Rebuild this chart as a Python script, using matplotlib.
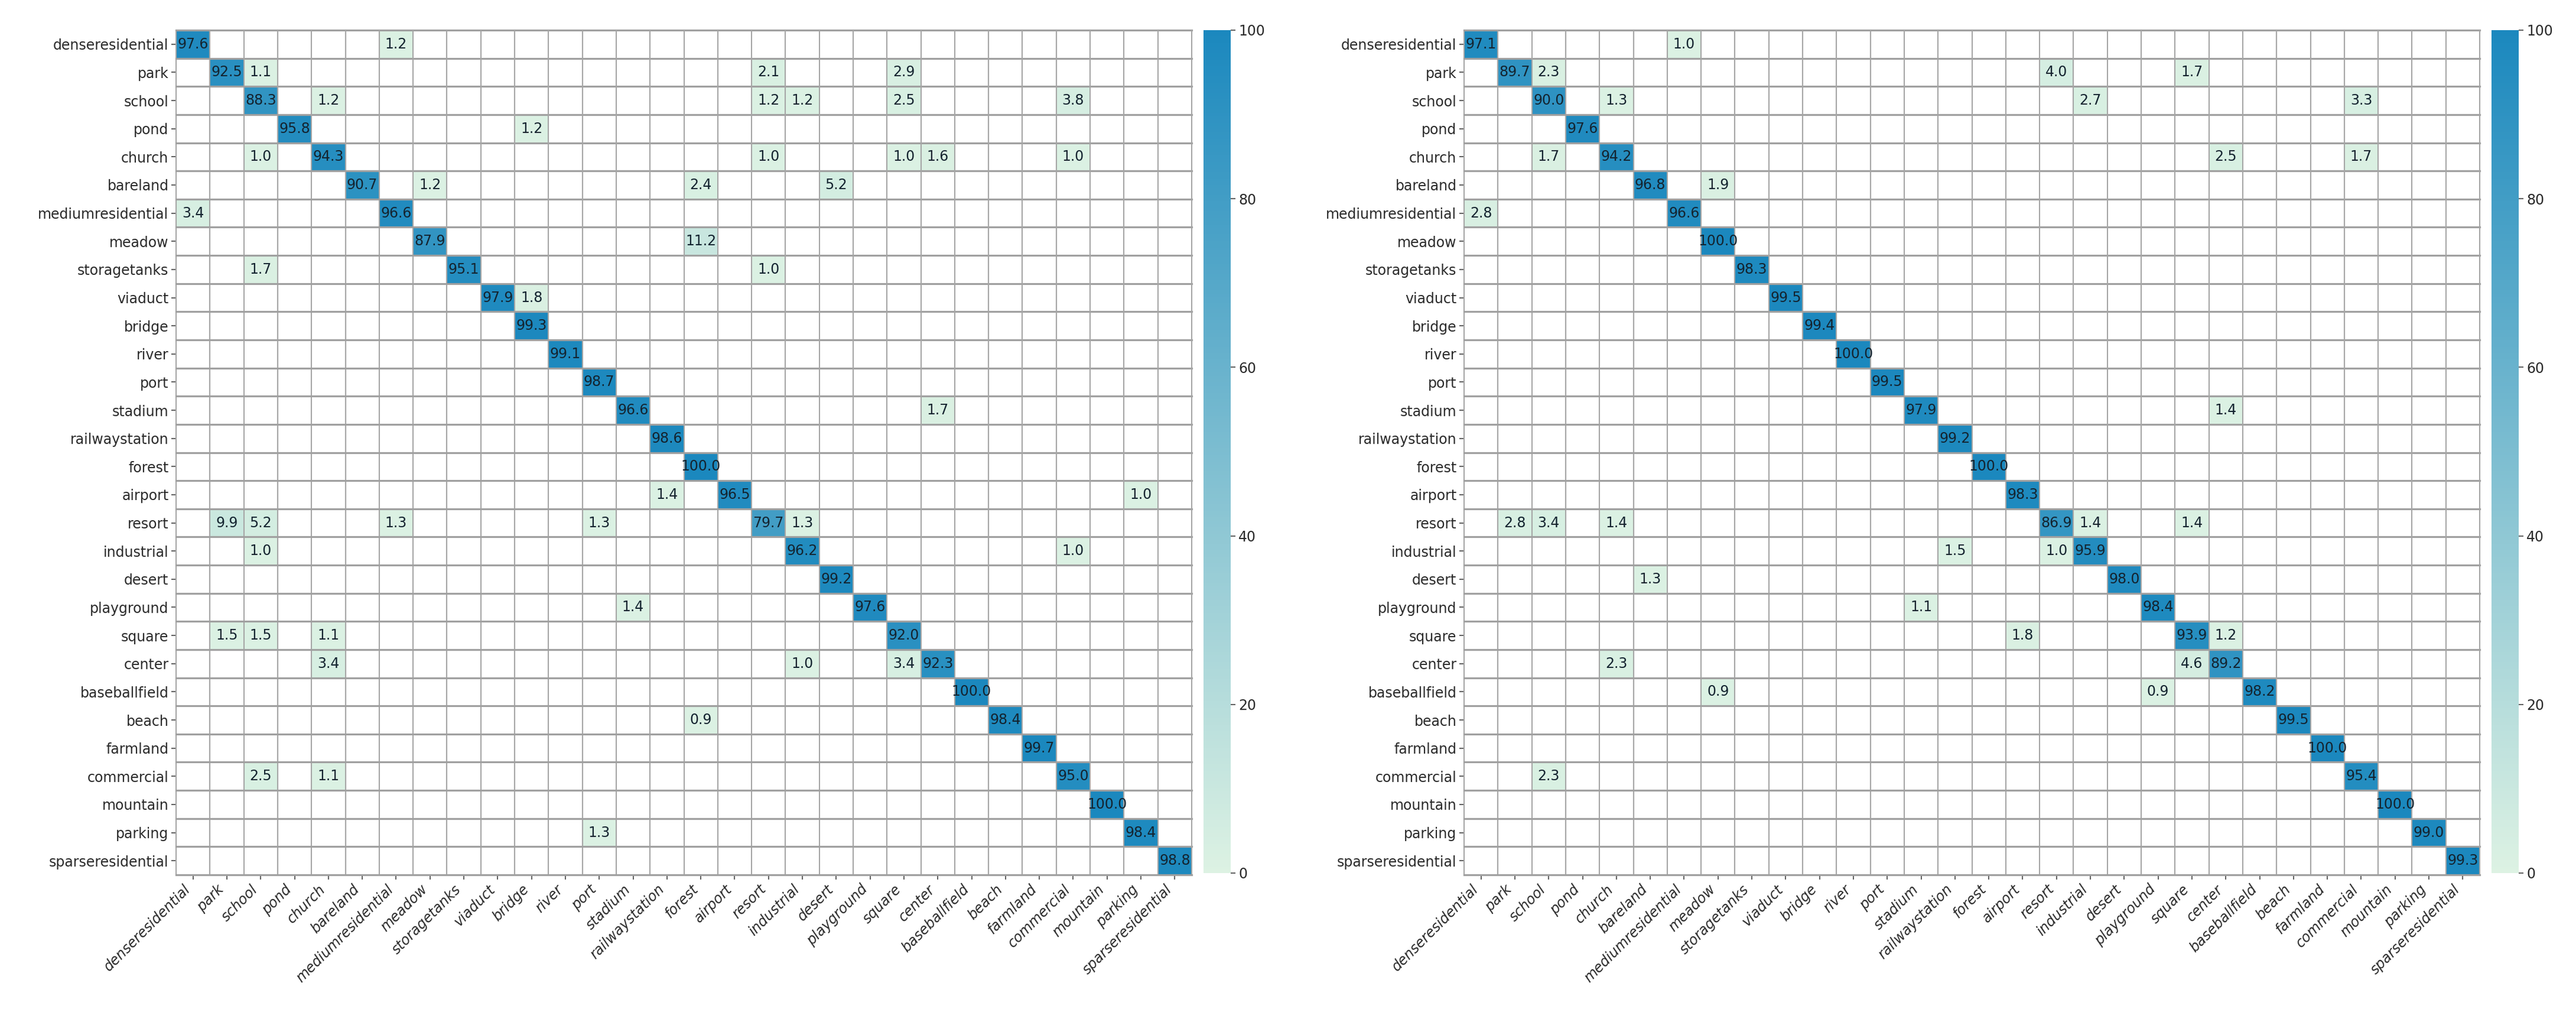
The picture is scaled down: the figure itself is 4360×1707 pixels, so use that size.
import numpy as np
import matplotlib
matplotlib.use("Agg")
import matplotlib.pyplot as plt
from matplotlib.colors import LinearSegmentedColormap

classes = ['denseresidential', 'park', 'school', 'pond', 'church', 'bareland',
           'mediumresidential', 'meadow', 'storagetanks', 'viaduct', 'bridge',
           'river', 'port', 'stadium', 'railwaystation', 'forest', 'airport',
           'resort', 'industrial', 'desert', 'playground', 'square', 'center',
           'baseballfield', 'beach', 'farmland', 'commercial', 'mountain',
           'parking', 'sparseresidential']

# left matrix: diagonal + off-diagonal (true, predicted, value)
diag_left = [97.6, 92.5, 88.3, 95.8, 94.3, 90.7, 96.6, 87.9, 95.1, 97.9,
             99.3, 99.1, 98.7, 96.6, 98.6, 100.0, 96.5, 79.7, 96.2, 99.2,
             97.6, 92.0, 92.3, 100.0, 98.4, 99.7, 95.0, 100.0, 98.4, 98.8]
off_left = [
    ('denseresidential', 'mediumresidential', 1.2),
    ('park', 'school', 1.1), ('park', 'resort', 2.1), ('park', 'square', 2.9),
    ('school', 'church', 1.2), ('school', 'resort', 1.2), ('school', 'industrial', 1.2),
    ('school', 'square', 2.5), ('school', 'commercial', 3.8),
    ('pond', 'bridge', 1.2),
    ('church', 'school', 1.0), ('church', 'resort', 1.0), ('church', 'square', 1.0),
    ('church', 'center', 1.6), ('church', 'commercial', 1.0),
    ('bareland', 'meadow', 1.2), ('bareland', 'forest', 2.4), ('bareland', 'desert', 5.2),
    ('mediumresidential', 'denseresidential', 3.4),
    ('meadow', 'forest', 11.2),
    ('storagetanks', 'school', 1.7), ('storagetanks', 'resort', 1.0),
    ('viaduct', 'bridge', 1.8),
    ('stadium', 'center', 1.7),
    ('airport', 'railwaystation', 1.4), ('airport', 'parking', 1.0),
    ('resort', 'park', 9.9), ('resort', 'school', 5.2), ('resort', 'mediumresidential', 1.3),
    ('resort', 'port', 1.3), ('resort', 'industrial', 1.3),
    ('industrial', 'school', 1.0), ('industrial', 'commercial', 1.0),
    ('playground', 'stadium', 1.4),
    ('square', 'park', 1.5), ('square', 'school', 1.5), ('square', 'church', 1.1),
    ('center', 'church', 3.4), ('center', 'industrial', 1.0), ('center', 'square', 3.4),
    ('beach', 'forest', 0.9),
    ('commercial', 'school', 2.5), ('commercial', 'church', 1.1),
    ('parking', 'port', 1.3),
]

# right matrix
diag_right = [97.1, 89.7, 90.0, 97.6, 94.2, 96.8, 96.6, 100.0, 98.3, 99.5,
              99.4, 100.0, 99.5, 97.9, 99.2, 100.0, 98.3, 86.9, 95.9, 98.0,
              98.4, 93.9, 89.2, 98.2, 99.5, 100.0, 95.4, 100.0, 99.0, 99.3]
off_right = [
    ('denseresidential', 'mediumresidential', 1.0),
    ('park', 'school', 2.3), ('park', 'resort', 4.0), ('park', 'square', 1.7),
    ('school', 'church', 1.3), ('school', 'industrial', 2.7), ('school', 'commercial', 3.3),
    ('church', 'school', 1.7), ('church', 'center', 2.5), ('church', 'commercial', 1.7),
    ('bareland', 'meadow', 1.9),
    ('mediumresidential', 'denseresidential', 2.8),
    ('stadium', 'center', 1.4),
    ('resort', 'park', 2.8), ('resort', 'school', 3.4), ('resort', 'church', 1.4),
    ('resort', 'industrial', 1.4), ('resort', 'square', 1.4),
    ('industrial', 'railwaystation', 1.5), ('industrial', 'resort', 1.0),
    ('desert', 'bareland', 1.3),
    ('playground', 'stadium', 1.1),
    ('square', 'airport', 1.8), ('square', 'center', 1.2),
    ('center', 'church', 2.3), ('center', 'square', 4.6),
    ('baseballfield', 'meadow', 0.9), ('baseballfield', 'playground', 0.9),
    ('commercial', 'school', 2.3),
]


def build(diag, off):
    n = len(classes)
    m = np.zeros((n, n))
    m[np.arange(n), np.arange(n)] = diag
    for r, c, v in off:
        m[classes.index(r), classes.index(c)] = v
    return m


cmap = LinearSegmentedColormap.from_list('mintblue', ['#ddf2e3', '#1b88be'])

W, H = 4360, 1707
fig = plt.figure(figsize=(W / 100, H / 100), dpi=100)


def draw(mat, x0, cx0):
    n = len(classes)
    ax = fig.add_axes([x0 / W, 227 / H, 1719 / W, 1429 / H])
    cax = fig.add_axes([cx0 / W, 230 / H, 46 / W, 1426 / H])

    data = np.ma.masked_equal(mat, 0)
    mesh = ax.pcolormesh(np.arange(n + 1), np.arange(n + 1), data,
                         cmap=cmap, vmin=0, vmax=100)
    ax.set_xlim(0, n)
    ax.set_ylim(n, 0)

    # grid lines (horizontal ones a bit heavier, like the original)
    for k in range(n + 1):
        ax.axvline(k, color='#a6a6a6', lw=1.5, clip_on=False, zorder=2)
        ax.axhline(k, color='#a0a0a0', lw=2.3, clip_on=False, zorder=2)

    for i in range(n):
        for j in range(n):
            if mat[i, j] > 0:
                ax.text(j + 0.5, i + 0.5, f'{mat[i, j]:.1f}', ha='center',
                        va='center', fontsize=17, color='#142430', zorder=3)

    for s in ax.spines.values():
        s.set_visible(False)
    ax.set_xticks(np.arange(n) + 0.5)
    ax.set_yticks(np.arange(n) + 0.5)
    ax.set_xticklabels(classes, rotation=45, ha='right', fontstyle='italic')
    ax.set_yticklabels(classes)
    ax.tick_params(labelsize=17, length=6, width=1.2, color='#444444',
                   labelcolor='#2a2a2a', pad=3)

    cb = fig.colorbar(mesh, cax=cax, ticks=[0, 20, 40, 60, 80, 100])
    cb.outline.set_visible(False)
    cax.tick_params(labelsize=17, length=6, width=1.2, color='#444444',
                    labelcolor='#2a2a2a')


draw(build(diag_left, off_left), 298, 2037)
draw(build(diag_right, off_right), 2478, 4217)

fig.savefig('out.png', dpi=100, facecolor='white')
